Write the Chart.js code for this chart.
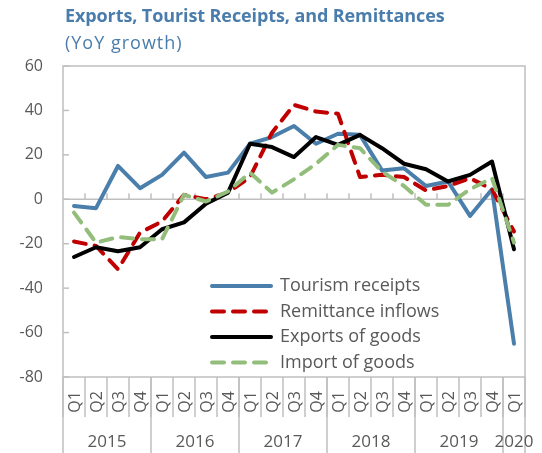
<!DOCTYPE html>
<html>
<head>
<meta charset="utf-8">
<script src="https://cdn.jsdelivr.net/npm/chart.js@4.4.1/dist/chart.umd.min.js"></script>
<style>
  html, body { margin: 0; padding: 0; background: #fff; }
  #wrap { position: relative; width: 542px; height: 453px; }
  .title { position: absolute; left: 65px; font-family: "Open Sans", sans-serif; color: #4a7dab; white-space: nowrap; }
  #t1 { top: 3px; font-size: 18px; font-weight: bold; letter-spacing: -0.1px; }
  #t2 { top: 30px; font-size: 18px; letter-spacing: 1px; }
</style>
</head>
<body>
<div id="wrap">
  <canvas id="chart" width="542" height="453"></canvas>
  <div class="title" id="t1">Exports, Tourist Receipts, and Remittances</div>
  <div class="title" id="t2">(YoY growth)</div>
</div>
<script>
// categories: Q1 2015 .. Q1 2020
const quarterLabels = [
  'Q1', 'Q2', 'Q3', 'Q4',
  'Q1', 'Q2', 'Q3', 'Q4',
  'Q1', 'Q2', 'Q3', 'Q4',
  'Q1', 'Q2', 'Q3', 'Q4',
  'Q1', 'Q2', 'Q3', 'Q4',
  'Q1'
];
const yearLabels = ['2015', '2016', '2017', '2018', '2019', '2020'];
const quartersPerYear = [4, 4, 4, 4, 4, 1];
const yTicks = [60, 40, 20, 0, -20, -40, -60, -80];

// series (YoY growth, %)
const tourismReceipts = [-3, -4, 15, 5, 11, 21, 10, 12, 25, 28, 33, 25, 29.5, 29, 13, 14, 6, 8, -7.5, 4.5, -65];
const remittanceInflows = [-19, -21, -31.5, -15, -10, 2, 0, 3, 10, 30, 42.5, 39.5, 38.5, 10, 11, 10, 4, 6, 9.5, 4.5, -14.5];
const exportsOfGoods = [-26, -21.6, -23.4, -21.6, -13.5, -10.4, -2, 3, 25, 23.5, 19, 28, 24.5, 29, 23, 16, 13.5, 8, 11, 17, -22.5];
const importOfGoods = [-6, -19.5, -17, -18, -18, 2, -1, 3.5, 12, 3, 9, 16, 24.5, 23, 12.5, 6, -2.5, -2.5, 4.5, 9.5, -19.5];

const gray = '#bfbfbf';
const textGray = '#595959';
const font = '"Open Sans", sans-serif';

function line(ctx, x1, y1, x2, y2) {
  ctx.beginPath();
  ctx.moveTo(x1, y1);
  ctx.lineTo(x2, y2);
  ctx.stroke();
}

// box, zero line, inside ticks, two-level x axis, legend
const axisArt = {
  id: 'axisArt',
  beforeDatasetsDraw(chart) {
    const { ctx, chartArea: a, scales: { x, y } } = chart;
    ctx.save();
    ctx.strokeStyle = gray;
    ctx.lineWidth = 1.5;
    ctx.strokeRect(a.left, a.top, a.right - a.left, a.bottom - a.top);
    const y0 = y.getPixelForValue(0);
    line(ctx, a.left, y0, a.right, y0);
    yTicks.forEach(v => {
      const py = y.getPixelForValue(v);
      line(ctx, a.left, py, a.left + 6, py);
    });
    const step = x.getPixelForValue(1) - x.getPixelForValue(0);
    for (let i = 1; i < quarterLabels.length; i++) {
      const bx = x.getPixelForValue(i) - step / 2;
      line(ctx, bx, y0, bx, y0 - 6);
    }
    ctx.restore();
  },
  afterDraw(chart) {
    const { ctx, chartArea: a, scales: { x } } = chart;
    const step = x.getPixelForValue(1) - x.getPixelForValue(0);
    ctx.save();
    ctx.strokeStyle = gray;
    ctx.lineWidth = 1.5;
    // quarter separators
    for (let i = 0; i <= quarterLabels.length; i++) {
      const bx = x.getPixelForValue(i) - step / 2;
      line(ctx, bx, a.bottom, bx, a.bottom + 40);
    }
    // year separators
    let idx = 0;
    const yearBounds = [0];
    quartersPerYear.forEach(n => { idx += n; yearBounds.push(idx); });
    yearBounds.forEach(k => {
      const bx = x.getPixelForValue(k) - step / 2;
      line(ctx, bx, a.bottom, bx, chart.height);
    });
    // quarter labels (rotated)
    ctx.fillStyle = textGray;
    ctx.font = '16px ' + font;
    ctx.textAlign = 'center';
    ctx.textBaseline = 'middle';
    quarterLabels.forEach((q, i) => {
      ctx.save();
      ctx.translate(x.getPixelForValue(i), a.bottom + 25);
      ctx.rotate(-Math.PI / 2);
      ctx.fillText(q, 0, 1);
      ctx.restore();
    });
    // year labels
    ctx.font = '17px ' + font;
    yearLabels.forEach((yr, j) => {
      const cx = (x.getPixelForValue(yearBounds[j]) + x.getPixelForValue(yearBounds[j + 1] - 1)) / 2;
      ctx.fillText(yr, cx, a.bottom + 65);
    });
    // legend
    ctx.font = '18px ' + font;
    ctx.textAlign = 'left';
    chart.data.datasets.forEach((ds, i) => {
      const ly = 286 + i * 25.5;
      ctx.save();
      ctx.strokeStyle = ds.borderColor;
      ctx.lineWidth = ds.borderWidth;
      ctx.lineCap = 'round';
      ctx.setLineDash(ds.borderDash || []);
      line(ctx, 212, ly, 271, ly);
      ctx.restore();
      ctx.fillStyle = textGray;
      ctx.fillText(ds.label, 280, ly);
    });
    ctx.restore();
  }
};

const ctx = document.getElementById('chart').getContext('2d');
new Chart(ctx, {
  type: 'line',
  data: {
    labels: quarterLabels.map((q, i) => q + '-' + i),
    datasets: [
      { label: 'Tourism receipts', data: tourismReceipts, borderColor: '#4a7eab', borderWidth: 4, order: 4 },
      { label: 'Remittance inflows', data: remittanceInflows, borderColor: '#c00000', borderWidth: 4, borderDash: [12, 9], order: 3 },
      { label: 'Exports of goods', data: exportsOfGoods, borderColor: '#000000', borderWidth: 4, order: 2 },
      { label: 'Import of goods', data: importOfGoods, borderColor: '#93bd7a', borderWidth: 4, borderDash: [12, 9], order: 1 }
    ]
  },
  options: {
    responsive: false,
    animation: false,
    layout: { padding: { top: 66, bottom: 76, right: 17, left: 0 } },
    elements: {
      point: { radius: 0 },
      line: { tension: 0, borderCapStyle: 'round', borderJoinStyle: 'round' }
    },
    scales: {
      x: { display: false, offset: true },
      y: {
        min: -80,
        max: 60,
        afterFit(scale) { scale.width = 63; },
        grid: { display: false, drawTicks: false },
        border: { display: false },
        ticks: { stepSize: 20, padding: 20, color: textGray, font: { family: 'Open Sans', size: 16 } }
      }
    },
    plugins: {
      legend: { display: false },
      tooltip: { enabled: false }
    }
  },
  plugins: [axisArt]
});
</script>
</body>
</html>
